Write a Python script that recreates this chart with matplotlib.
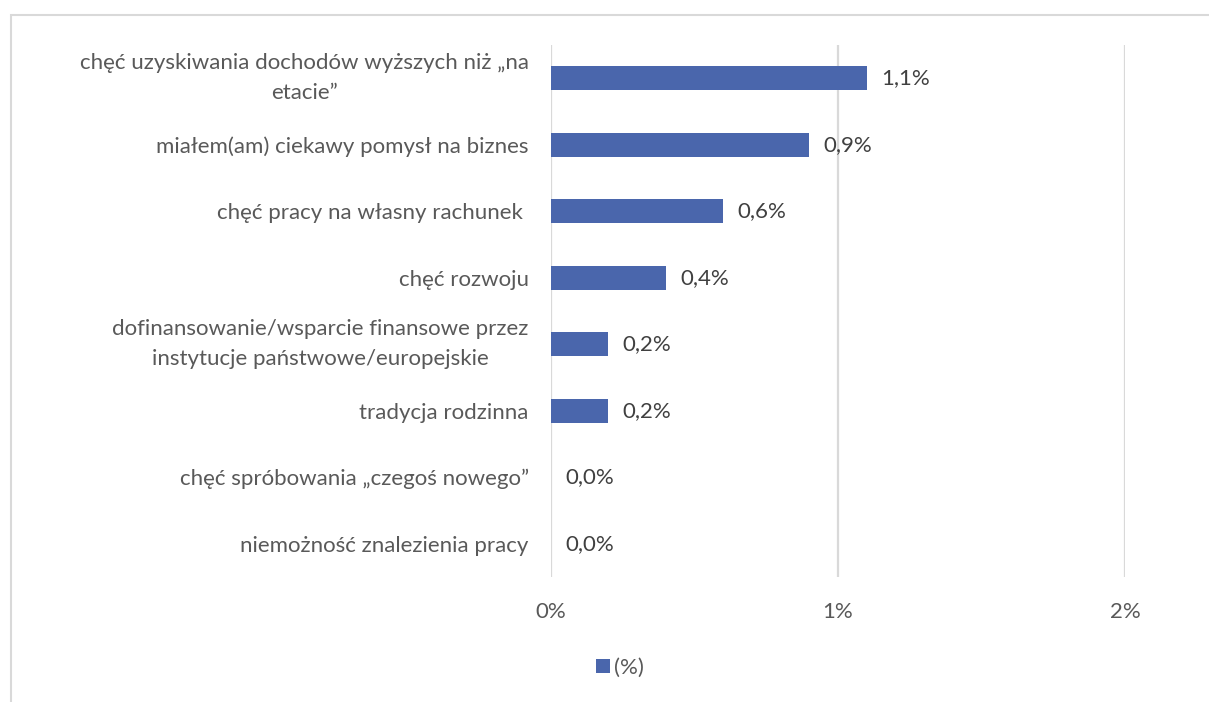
import matplotlib.pyplot as plt
from matplotlib.patches import Rectangle

plt.rcParams['font.family'] = ['Lato', 'DejaVu Sans']

# categories listed top to bottom
categories = [
    'chęć uzyskiwania dochodów wyższych niż „na\netacie”',
    'miałem(am) ciekawy pomysł na biznes',
    'chęć pracy na własny rachunek ',
    'chęć rozwoju',
    'dofinansowanie/wsparcie finansowe przez\ninstytucje państwowe/europejskie',
    'tradycja rodzinna',
    'chęć spróbowania „czegoś nowego”',
    'niemożność znalezienia pracy',
]
values = [1.1, 0.9, 0.6, 0.4, 0.2, 0.2, 0.0, 0.0]
x_ticks = [0, 1, 2]
series_name = '(%)'

bar_color = '#4a66ac'
grid_color = '#d9d9d9'
label_color = '#595959'
value_color = '#404040'
fs = 16

fig = plt.figure(figsize=(12.09, 7.02), dpi=100)

# chart area frame
fig.patches.append(Rectangle((11 / 1209, -0.1), 1.2, 1 - 15 / 702 + 0.1,
                             transform=fig.transFigure, fill=False,
                             edgecolor=grid_color, linewidth=1.5))

ax = fig.add_axes([551 / 1209, 1 - 577 / 702, (1125 - 551) / 1209, (577 - 45) / 702])

ypos = list(range(len(categories)))
bars = ax.barh(ypos, values, height=0.36, color=bar_color, label=series_name, zorder=3)
ax.set_ylim(len(categories) - 0.5, -0.5)
ax.set_xlim(0, 2)

for y, v in zip(ypos, values):
    ax.text(v + 0.05, y, f'{v:.1f}%'.replace('.', ','), va='center', ha='left',
            fontsize=fs, color=value_color)

ax.set_yticks(ypos)
ax.set_yticklabels(categories, fontsize=fs, color=label_color, linespacing=1.65)
for lbl in ax.get_yticklabels():
    lbl.set_multialignment('center')
    if '\n' in lbl.get_text():
        lbl.set_verticalalignment('center')
ax.set_xticks(x_ticks)
ax.set_xticklabels([f'{t}%' for t in x_ticks], fontsize=fs, color=label_color)
ax.tick_params(axis='both', length=0)
ax.tick_params(axis='y', pad=16)
ax.tick_params(axis='x', pad=18)

ax.grid(axis='x', color=grid_color, linewidth=1.6, zorder=0)
for s in ax.spines.values():
    s.set_visible(False)

fig.legend(handles=[bars], labels=[series_name], loc='center',
           bbox_to_anchor=(620 / 1209, 1 - 668 / 702), frameon=False,
           fontsize=fs, labelcolor=label_color, handlelength=0.6, handleheight=0.6,
           handletextpad=0.2)

fig.savefig('out.png', dpi=100)
